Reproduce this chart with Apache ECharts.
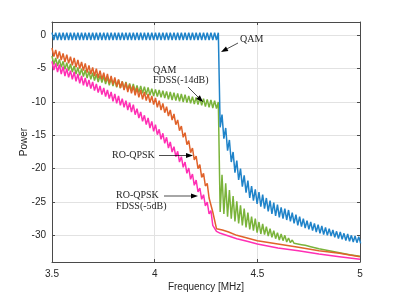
<!DOCTYPE html>
<html><head><meta charset="utf-8">
<script src="https://cdn.jsdelivr.net/npm/echarts@6/dist/echarts.min.js"></script>
<style>html,body{margin:0;padding:0;background:#fff}#c{width:397px;height:297px}</style>
</head><body><div id="c"></div>
<script>
// Sampling grid for the rippled parts (MHz)
const rippleStart = 3.5;
const rippleStep = 0.009;

// QAM (blue)
const qamRipple = [
0.4,-0.7,0.4,-0.7,0.4,-0.7,0.4,-0.7,0.4,-0.7,
0.4,-0.7,0.4,-0.7,0.4,-0.7,0.4,-0.7,0.4,-0.7,
0.4,-0.7,0.4,-0.7,0.4,-0.7,0.4,-0.7,0.4,-0.7,
0.4,-0.7,0.4,-0.7,0.4,-0.7,0.4,-0.7,0.4,-0.7,
0.4,-0.7,0.4,-0.7,0.4,-0.7,0.4,-0.7,0.4,-0.7,
0.4,-0.7,0.4,-0.7,0.4,-0.7,0.4,-0.7,0.4,-0.7,
0.4,-0.7,0.4,-0.7,0.4,-0.7,0.4,-0.7,0.4,-0.7,
0.4,-0.7,0.4,-0.7,0.4,-0.7,0.4,-0.7,0.4,-0.7,
0.4,-0.7,0.4,-0.7,0.4,-0.7,0.4,-0.7,0.4,-0.7,
0.4];
const qamTail = [
-13.8,-11.9,-15.5,-13.9,-17.3,-15.7,-19.0,-17.5,-20.6,-18.8,
-21.7,-20.0,-22.7,-21.0,-23.6,-21.8,-24.4,-22.6,-24.8,-23.1,
-25.3,-23.5,-25.7,-23.9,-26.0,-24.4,-26.4,-24.8,-26.8,-25.1,
-27.1,-25.4,-27.3,-25.8,-27.5,-26.0,-27.7,-26.2,-27.9,-26.6,
-28.2,-26.9,-28.5,-27.2,-28.7,-27.5,-28.9,-27.8,-29.1,-28.0,
-29.3,-28.2,-29.5,-28.4,-29.7,-28.6,-29.9,-28.8,-30.0,-29.0,
-30.1,-29.2,-30.3,-29.4,-30.5,-29.5,-30.6,-29.7,-30.8,-29.8,
-30.9,-30.0,-31.0,-30.1,-31.1,-30.2,-31.2];

// QAM FDSS(-14dB) (green)
const qamFdssRipple = [
-3.1,-4.4,-3.4,-4.6,-3.6,-4.8,-3.9,-5.1,-4.1,-5.3,
-4.3,-5.5,-4.6,-5.8,-4.8,-6.0,-5.0,-6.2,-5.2,-6.4,
-5.4,-6.6,-5.6,-6.8,-5.8,-7.0,-6.0,-7.1,-6.1,-7.3,
-6.3,-7.5,-6.4,-7.6,-6.6,-7.8,-6.7,-7.9,-6.9,-8.1,
-7.0,-8.2,-7.2,-8.3,-7.3,-8.5,-7.5,-8.6,-7.6,-8.7,
-7.7,-8.9,-7.8,-9.0,-8.0,-9.1,-8.1,-9.2,-8.2,-9.3,
-8.3,-9.4,-8.4,-9.6,-8.5,-9.7,-8.6,-9.8,-8.7,-9.9,
-8.8,-10.0,-8.9,-10.1,-9.1,-10.2,-9.2,-10.3,-9.3,-10.4,
-9.4,-10.5,-9.5,-10.7,-9.6,-10.8,-9.7,-10.9,-9.8,-11.0,
-10.0];
const qamFdssTail = [
-26.5,-20.9,-26.8,-22.2,-27.2,-23.2,-27.5,-24.1,-27.9,-24.9,
-28.2,-25.5,-28.5,-26.0,-28.8,-26.6,-29.1,-27.2,-29.3,-27.5,
-29.6,-28.0,-29.8,-28.3,-29.9,-28.7,-30.1,-29.0,-30.3,-29.3,
-30.5,-29.6,-30.7,-29.8,-30.8,-30.0,-31.0,-30.4,-31.1,-30.7,
-31.2,-30.9,-31.3,-31.1,-31.4,-31.3,-31.5];
const qamFdssEndFreq = [4.76, 4.80, 4.85, 4.90, 4.95, 5.00];
const qamFdssEnd = [-31.7, -32.0, -32.3, -32.6, -32.9, -33.15];

// RO-QPSK (orange)
const roRipple = [
-1.9,-3.2,-2.2,-3.5,-2.4,-3.7,-2.7,-4.0,-2.9,-4.2,
-3.2,-4.5,-3.4,-4.8,-3.7,-5.0,-4.0,-5.3,-4.2,-5.6,
-4.5,-5.8,-4.8,-6.1,-5.0,-6.4,-5.3,-6.6,-5.6,-6.9,
-5.8,-7.2,-6.1,-7.4,-6.3,-7.7,-6.6,-7.9,-6.9,-8.2,
-7.1,-8.5,-7.4,-8.7,-7.6,-9.0,-7.9,-9.3,-8.2,-9.6,
-8.5,-9.8,-8.8,-10.1,-9.1,-10.4,-9.4,-10.8,-9.8,-11.2,
-10.2,-11.6,-10.7,-12.1,-11.2,-12.7,-11.8,-13.4,-12.7,-14.3,
-13.6,-15.3,-14.6,-16.4,-15.8,-17.6,-16.9,-18.7,-18.1,-20.0,
-19.4,-21.3,-20.7,-22.6,-22.2,-24.4,-24.2,-26.5,-26.8,-29.0,
-29.0];
const roTailFreq = [4.33, 4.36, 4.40, 4.45, 4.50, 4.60, 4.70, 4.80, 4.90, 5.00];
const roTail = [-29.2, -29.5, -30.0, -30.4, -30.8, -31.3, -31.8, -32.3, -32.7, -33.2];

// RO-QPSK FDSS(-5dB) (pink)
const roFdssRipple = [
-3.9,-5.2,-4.2,-5.5,-4.4,-5.8,-4.7,-6.1,-5.0,-6.3,
-5.3,-6.6,-5.5,-6.9,-5.8,-7.2,-6.1,-7.5,-6.4,-7.7,
-6.7,-8.0,-7.0,-8.3,-7.3,-8.6,-7.6,-8.9,-7.9,-9.2,
-8.2,-9.5,-8.5,-9.9,-8.8,-10.2,-9.1,-10.5,-9.5,-10.8,
-9.8,-11.2,-10.1,-11.5,-10.4,-11.9,-11.0,-12.4,-11.5,-12.9,
-12.0,-13.4,-12.4,-13.9,-12.9,-14.4,-13.4,-14.9,-14.1,-15.6,
-14.7,-16.2,-15.3,-16.9,-16.0,-17.5,-16.7,-18.2,-17.4,-19.0,
-18.2,-19.8,-19.0,-20.7,-19.9,-21.6,-20.8,-22.5,-21.7,-23.5,
-22.9,-24.6,-23.9,-25.6,-25.0,-26.8,-26.3,-28.5,-28.2,-29.4];
const roFdssTailFreq = [4.32, 4.36, 4.40, 4.45, 4.50, 4.60, 4.70, 4.80, 4.90, 5.00];
const roFdssTail = [-29.7, -30.1, -30.5, -30.9, -31.3, -31.9, -32.3, -32.8, -33.2, -33.6];

const xTicks = [3.5, 4, 4.5, 5];
const yTicks = [0, -5, -10, -15, -20, -25, -30];

function gridFreq(n, offset) {
  const out = [];
  for (let k = 0; k < n; k++) out.push(+(rippleStart + rippleStep * (k + offset)).toFixed(3));
  return out;
}
function pairs(xs, ys) { return ys.map((y, k) => [xs[k], y]); }

const blueData = pairs(gridFreq(qamRipple.length, 0), qamRipple)
  .concat(pairs(gridFreq(qamTail.length, qamRipple.length), qamTail));
const greenData = pairs(gridFreq(qamFdssRipple.length, 0), qamFdssRipple)
  .concat(pairs(gridFreq(qamFdssTail.length, qamFdssRipple.length), qamFdssTail))
  .concat(pairs(qamFdssEndFreq, qamFdssEnd));
const orangeData = pairs(gridFreq(roRipple.length, 0), roRipple).concat(pairs(roTailFreq, roTail));
const pinkData = pairs(gridFreq(roFdssRipple.length, 0), roFdssRipple).concat(pairs(roFdssTailFreq, roFdssTail));

const axisColor = '#4a4a4a';
const textColor = '#262626';
const sans = 'Liberation Sans';

function arrow(x1, y1, x2, y2) {
  const a = Math.atan2(y2 - y1, x2 - x1);
  const L = 7, W = 2.6;
  const bx = x2 - L * Math.cos(a), by = y2 - L * Math.sin(a);
  const px = -Math.sin(a), py = Math.cos(a);
  return [
    {type: 'line', z: 100, shape: {x1, y1, x2: bx, y2: by}, style: {stroke: '#000', lineWidth: 0.7}},
    {type: 'polygon', z: 100, shape: {points: [[x2, y2], [bx + W * px, by + W * py], [bx - W * px, by - W * py]]}, style: {fill: '#000'}}
  ];
}
function label(x, y, t) {
  return {type: 'text', z: 100, x, y, style: {text: t, fill: textColor, font: '10px "Liberation Serif"', textVerticalAlign: 'middle', verticalAlign: 'middle'}};
}

const chart = echarts.init(document.getElementById('c'), null, {renderer: 'canvas'});
const baseX = {type: 'value', min: 3.5, max: 5, interval: 0.5};
const baseY = {type: 'value', min: -34, max: 2, splitNumber: 7};
const lw = 1.5;
chart.setOption({
  animation: false,
  backgroundColor: '#fff',
  grid: {left: 52, right: 37, top: 22, bottom: 34, containLabel: false},
  xAxis: [
    Object.assign({}, baseX, {
      position: 'bottom',
      axisLine: {show: true, onZero: false, lineStyle: {color: axisColor, width: 1}},
      axisTick: {show: true, inside: true, length: 3, lineStyle: {color: axisColor}},
      axisLabel: {color: textColor, fontSize: 10, fontFamily: sans, margin: 7,
        formatter: v => xTicks.includes(+v.toFixed(2)) ? String(+v.toFixed(2)) : ''},
      splitLine: {show: true, lineStyle: {color: '#e2e2e2', width: 1}},
      name: 'Frequency [MHz]', nameLocation: 'middle', nameGap: 20, nameMoveOverlap: false,
      nameTextStyle: {color: textColor, fontSize: 10, fontFamily: sans}
    }),
    Object.assign({}, baseX, {
      position: 'top',
      axisLine: {show: true, onZero: false, lineStyle: {color: axisColor, width: 1}},
      axisTick: {show: true, inside: true, length: 3, lineStyle: {color: axisColor}},
      axisLabel: {show: false}, splitLine: {show: false}
    })
  ],
  yAxis: [
    Object.assign({}, baseY, {
      position: 'left',
      axisLine: {show: true, onZero: false, lineStyle: {color: axisColor, width: 1}},
      axisTick: {show: true, inside: true, length: 3, lineStyle: {color: axisColor}},
      axisLabel: {color: textColor, fontSize: 10, fontFamily: sans, margin: 6,
        showMinLabel: false, showMaxLabel: false,
        formatter: v => yTicks.includes(v) ? String(v) : ''},
      splitLine: {show: true, lineStyle: {color: '#e2e2e2', width: 1}},
      name: 'Power', nameLocation: 'middle', nameGap: 23, nameMoveOverlap: false,
      nameTextStyle: {color: textColor, fontSize: 10, fontFamily: sans}
    }),
    Object.assign({}, baseY, {
      position: 'right',
      axisLine: {show: true, onZero: false, lineStyle: {color: axisColor, width: 1}},
      axisTick: {show: true, inside: true, length: 3, lineStyle: {color: axisColor}},
      axisLabel: {show: false}, splitLine: {show: false}
    })
  ],
  series: [
    {name: 'QAM', type: 'line', data: blueData, showSymbol: false, symbol: 'none', clip: true,
     lineStyle: {color: '#1f83c9', width: lw}, z: 5},
    {name: 'QAM FDSS(-14dB)', type: 'line', data: greenData, showSymbol: false, symbol: 'none', clip: true,
     lineStyle: {color: '#7ab33a', width: lw}, z: 4},
    {name: 'RO-QPSK', type: 'line', data: orangeData, showSymbol: false, symbol: 'none', clip: true,
     lineStyle: {color: '#e0622a', width: lw}, z: 4},
    {name: 'RO-QPSK FDSS(-5dB)', type: 'line', data: pinkData, showSymbol: false, symbol: 'none', clip: true,
     lineStyle: {color: '#ff2fb4', width: lw}, z: 4}
  ],
  graphic: [
    label(240, 39, 'QAM'),
    ...arrow(238, 43, 221, 52),
    label(153, 70.5, 'QAM'),
    label(153, 80.5, 'FDSS(-14dB)'),
    ...arrow(188, 87, 203, 102),
    label(112, 155.5, 'RO-QPSK'),
    ...arrow(159, 155.5, 193, 155.5),
    label(116, 195, 'RO-QPSK'),
    label(116, 206, 'FDSS(-5dB)'),
    ...arrow(164, 196, 198, 196)
  ]
});
</script></body></html>
